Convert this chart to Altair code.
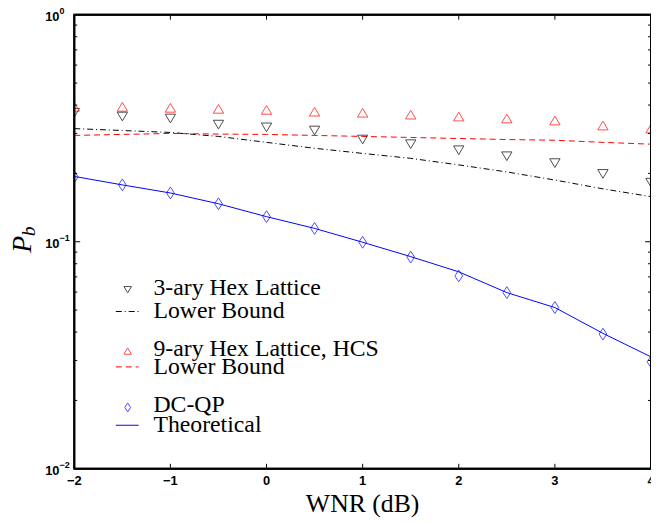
import altair as alt
import pandas as pd

# ---- data ----
wnr = [-2, -1.5, -1, -0.5, 0, 0.5, 1, 1.5, 2, 2.5, 3, 3.5, 4]
hex3 = [0.370, 0.356, 0.349, 0.328, 0.319, 0.309, 0.282, 0.269, 0.253, 0.238, 0.222, 0.199, 0.182]
hex3_lb = [0.315, 0.309, 0.303, 0.291, 0.274, 0.258, 0.245, 0.233, 0.218, 0.203, 0.187, 0.171, 0.158]
hex9 = [0.393, 0.393, 0.389, 0.385, 0.381, 0.374, 0.370, 0.363, 0.356, 0.349, 0.342, 0.325, 0.315]
hex9_lb = [0.294, 0.297, 0.300, 0.298, 0.297, 0.294, 0.291, 0.288, 0.285, 0.282, 0.280, 0.274, 0.269]
dcqp = [0.193, 0.178, 0.164, 0.147, 0.129, 0.1145, 0.0995, 0.0856, 0.0707, 0.0597, 0.0513, 0.0392, 0.0296]
dcqp_th = [0.194, 0.178, 0.164, 0.147, 0.129, 0.1145, 0.0995, 0.086, 0.0737, 0.0597, 0.0513, 0.0395, 0.0311]

x_range = [-2, 4]
y_range = [0.01, 1]
x_ticks = [-2, -1, 0, 1, 2, 3, 4]
y_major = [0.01, 0.1, 1]
y_exp = ["\u22122", "\u22121", "0"]
y_minor = [k * 0.01 for k in range(2, 10)] + [k * 0.1 for k in range(2, 10)]

legend_labels = ["3-ary Hex Lattice", "Lower Bound", "9-ary Hex Lattice, HCS",
                 "Lower Bound", "DC-QP", "Theoretical"]
legend_rows = [276, 300, 338, 356, 395, 415]

W, H = 583, 459

xs = alt.Scale(domain=x_range, nice=False, zero=False)
ys = alt.Scale(type="log", domain=y_range, nice=False)

def df(vals):
    return pd.DataFrame({"x": wnr, "y": vals})

X = alt.X("x:Q", scale=xs, axis=None)
Y = alt.Y("y:Q", scale=ys, axis=None)

TRI_UP = "M0,-0.8L0.95,0.8L-0.95,0.8Z"
TRI_DN = "M0,0.8L0.95,-0.8L-0.95,-0.8Z"
DIAM = "M0,-1L0.65,0L0,1L-0.65,0Z"

lines = [
    alt.Chart(df(hex3_lb)).mark_line(color="black", strokeWidth=1, strokeDash=[6, 3, 1, 3]).encode(x=X, y=Y),
    alt.Chart(df(hex9_lb)).mark_line(color="#ff0000", strokeWidth=1, strokeDash=[6, 4]).encode(x=X, y=Y),
    alt.Chart(df(dcqp_th)).mark_line(color="#0000ff", strokeWidth=1).encode(x=X, y=Y),
]
points = [
    alt.Chart(df(hex3)).mark_point(shape=TRI_DN, size=121, color="black", strokeWidth=1, clip=True).encode(x=X, y=Y),
    alt.Chart(df(hex9)).mark_point(shape=TRI_UP, size=121, color="#ff0000", strokeWidth=1, clip=True).encode(x=X, y=Y),
    alt.Chart(df(dcqp)).mark_point(shape=DIAM, size=144, color="#0000ff", strokeWidth=1, clip=True).encode(x=X, y=Y),
]

# frame drawn as rules at the domain ends
fx = pd.DataFrame({"x": x_range})
fy = pd.DataFrame({"y": y_range})
frame = [
    alt.Chart(fx).mark_rule(color="black", strokeWidth=2).encode(x=X, y=alt.value(0), y2=alt.value(H)),
    alt.Chart(fy).mark_rule(color="black", strokeWidth=2).encode(y=Y, x=alt.value(0), x2=alt.value(W)),
]

# ticks (inward)
xt_df = pd.DataFrame({"x": x_ticks})
ymaj_df = pd.DataFrame({"y": [0.1]})
ymin_df = pd.DataFrame({"y": y_minor})
ticks = [
    alt.Chart(xt_df).mark_rule(color="black", strokeWidth=1).encode(x=X, y=alt.value(H), y2=alt.value(H - 5)),
    alt.Chart(xt_df).mark_rule(color="black", strokeWidth=1).encode(x=X, y=alt.value(0), y2=alt.value(5)),
    alt.Chart(ymaj_df).mark_rule(color="black", strokeWidth=1).encode(y=Y, x=alt.value(0), x2=alt.value(6)),
    alt.Chart(ymaj_df).mark_rule(color="black", strokeWidth=1).encode(y=Y, x=alt.value(W - 6), x2=alt.value(W)),
    alt.Chart(ymin_df).mark_rule(color="black", strokeWidth=1).encode(y=Y, x=alt.value(0), x2=alt.value(3)),
    alt.Chart(ymin_df).mark_rule(color="black", strokeWidth=1).encode(y=Y, x=alt.value(W - 3), x2=alt.value(W)),
]

# x tick labels
xlab_df = pd.DataFrame({"x": x_ticks, "t": [("\u2212" + str(-v)) if v < 0 else str(v) for v in x_ticks]})
xlabels = alt.Chart(xlab_df).mark_text(font="Liberation Sans", fontWeight="bold", fontSize=13,
                                       baseline="middle", align="center").encode(
    x=X, y=alt.value(H + 12), text="t:N")

# y tick labels (10 with superscript exponent)
ylab_df = pd.DataFrame({"y": y_major, "e": y_exp})
ybase = alt.Chart(ylab_df).mark_text(font="Liberation Sans", fontWeight="bold", fontSize=13,
                                     baseline="middle", align="right", dy=2).encode(
    y=Y, x=alt.value(-15), text=alt.value("10"))
yexp = alt.Chart(ylab_df).mark_text(font="Liberation Sans", fontWeight="bold", fontSize=9,
                                    baseline="middle", align="left", dy=-4).encode(
    y=Y, x=alt.value(-15), text="e:N")

# axis titles
xtitle = alt.Chart(pd.DataFrame({"t": ["WNR (dB)"]})).mark_text(
    font="Liberation Serif", fontSize=26, baseline="middle", align="center").encode(
    x=alt.value(W / 2), y=alt.value(H + 36), text="t:N")
ytitle_p = alt.Chart(pd.DataFrame({"t": ["P"]})).mark_text(
    font="Liberation Serif", fontStyle="italic", fontSize=28, baseline="middle", align="center", angle=270).encode(
    x=alt.value(-52), y=alt.value(232), text="t:N")
ytitle_b = alt.Chart(pd.DataFrame({"t": ["b"]})).mark_text(
    font="Liberation Serif", fontStyle="italic", fontSize=20, baseline="middle", align="center", angle=270).encode(
    x=alt.value(-46), y=alt.value(219), text="t:N")

# legend
leg_df = pd.DataFrame({"label": legend_labels, "ly": legend_rows})
LY = alt.Y("ly:Q", scale=None, axis=None)
leg_text = alt.Chart(leg_df).mark_text(font="Liberation Serif", fontSize=24, baseline="middle",
                                       align="left").encode(x=alt.value(80), y=LY, text="label:N")
def leg_row(i):
    return alt.Chart(leg_df.iloc[[i]])
leg_marks = [
    leg_row(0).mark_point(shape=TRI_DN, size=64, color="black", strokeWidth=1).encode(x=alt.value(54), y=LY, yOffset=alt.value(2)),
    leg_row(1).mark_rule(color="black", strokeWidth=1, strokeDash=[6, 3, 1, 3]).encode(x=alt.value(42), x2=alt.value(65), y=LY),
    leg_row(2).mark_point(shape=TRI_UP, size=64, color="#ff0000", strokeWidth=1).encode(x=alt.value(54), y=LY, yOffset=alt.value(2)),
    leg_row(3).mark_rule(color="#ff0000", strokeWidth=1, strokeDash=[6, 4]).encode(x=alt.value(42), x2=alt.value(65), y=LY),
    leg_row(4).mark_point(shape=DIAM, size=81, color="#0000ff", strokeWidth=1).encode(x=alt.value(54), y=LY, yOffset=alt.value(2)),
    leg_row(5).mark_rule(color="#0000ff", strokeWidth=1).encode(x=alt.value(42), x2=alt.value(65), y=LY),
]

chart = alt.layer(*lines, *points, *frame, *ticks, xlabels, ybase, yexp, xtitle, ytitle_p, ytitle_b,
                  leg_text, *leg_marks).properties(
    width=W, height=H,
    background="white",
    autosize=alt.AutoSizeParams(type="none"),
    padding={"left": 67, "top": 4, "right": 0, "bottom": 50},
).configure_view(stroke="black", strokeWidth=2, fill="white")

chart.save("out.html", embed_options={"renderer": "svg", "actions": False})
